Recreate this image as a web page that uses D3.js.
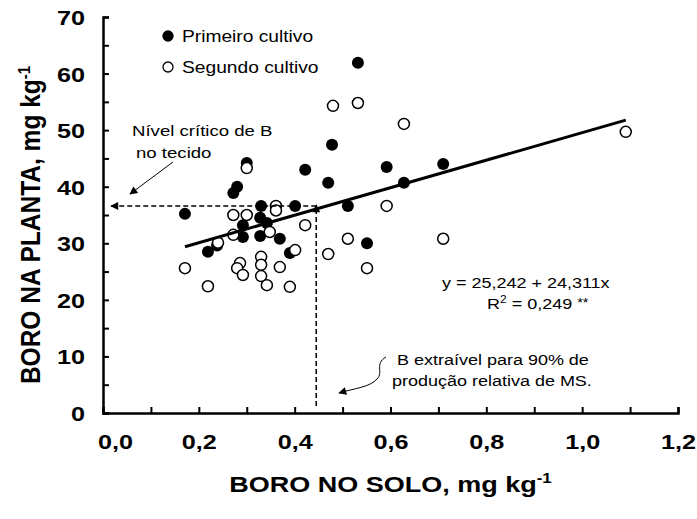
<!DOCTYPE html>
<html>
<head>
<meta charset="utf-8">
<script src="https://cdn.jsdelivr.net/npm/d3@7"></script>
<style>
  body { margin: 0; background: #fff; }
  svg { display: block; font-family: Arial, "Liberation Sans", sans-serif; }
</style>
</head>
<body>
<svg width="697" height="519"></svg>
<script>
// dados: [boro no solo, boro na planta]
const primeiro = [
    [0.171, 35.2], [0.219, 28.5], [0.238, 29.6], [0.272, 38.9], [0.280, 40.0],
    [0.300, 44.2], [0.292, 33.2], [0.292, 31.1], [0.330, 36.6], [0.328, 34.5],
    [0.342, 33.6], [0.328, 31.3], [0.369, 30.8], [0.390, 28.3], [0.401, 36.6],
    [0.422, 43.0], [0.470, 40.7], [0.478, 47.4], [0.532, 61.9], [0.511, 36.6],
    [0.551, 30.0], [0.592, 43.5], [0.628, 40.7], [0.710, 44.0]
];

const segundo = [
    [0.171, 25.6], [0.219, 22.4], [0.240, 30.1], [0.272, 35.0], [0.272, 31.5],
    [0.286, 26.5], [0.280, 25.6], [0.292, 24.4], [0.300, 43.3], [0.300, 35.0],
    [0.330, 27.6], [0.330, 26.2], [0.330, 24.2], [0.342, 22.6], [0.348, 32.0],
    [0.361, 36.6], [0.361, 35.8], [0.369, 25.8], [0.390, 22.3], [0.401, 28.8],
    [0.422, 33.2], [0.470, 28.1], [0.480, 54.3], [0.511, 30.8], [0.532, 54.8],
    [0.551, 25.6], [0.592, 36.6], [0.628, 51.1], [0.710, 30.8], [1.091, 49.7]
];

// reta ajustada y = 25,242 + 24,311x
const intercepto = 25.242;
const inclinacao = 24.311;
const faixaReta = [0.171, 1.091];

// nível crítico
const nivelCritico = { x: 0.445, y: 36.6 };

const ticksX = d3.range(0, 1.21, 0.1);
const ticksY = d3.range(0, 71, 5);

const svg = d3.select("svg");

const x = d3.scaleLinear().domain([0, 1.2]).range([103, 678]);
const y = d3.scaleLinear().domain([0, 70]).range([413, 17]);

const virgula = d => d.toFixed(1).replace(".", ",");

// o texto do original está um pouco esticado na horizontal
const estica = "scale(1.2,1)";

// texto solto posicionado em (px, py)
function texto(g, px, py, tam, str, bold) {
    return g.append("text")
        .attr("transform", `translate(${px},${py}) ${estica}`)
        .style("font-size", tam + "px")
        .style("font-weight", bold ? "bold" : "normal")
        .text(str);
}

// marcadores de seta
const defs = svg.append("defs");
defs.append("marker")
    .attr("id", "seta")
    .attr("viewBox", "0 0 10 10")
    .attr("refX", 9).attr("refY", 5)
    .attr("markerWidth", 12).attr("markerHeight", 8)
    .attr("markerUnits", "userSpaceOnUse")
    .attr("orient", "auto")
    .append("path")
    .attr("d", "M0,0 L10,5 L0,10 Z")
    .attr("fill", "#000");

// eixo Y
const eixoY = svg.append("g")
    .attr("transform", `translate(${x(0)},0)`)
    .call(d3.axisLeft(y)
        .tickValues(ticksY)
        .tickSize(-6)
        .tickPadding(15)
        .tickFormat(d => d % 10 === 0 ? d : ""));

// eixo X
const eixoX = svg.append("g")
    .attr("transform", `translate(0,${y(0)})`)
    .call(d3.axisBottom(x)
        .tickValues(ticksX)
        .tickSize(-6)
        .tickPadding(17)
        .tickFormat((d, i) => i % 2 === 0 ? virgula(d) : ""));

[eixoX, eixoY].forEach(g => {
    g.select(".domain").attr("stroke", "#000").attr("stroke-width", 2.5);
    g.selectAll(".tick line").attr("stroke", "#000").attr("stroke-width", 2);
    g.selectAll(".tick text")
        .attr("fill", "#000")
        .attr("transform", estica)
        .style("font-size", "21px")
        .style("font-weight", "bold")
        .style("font-family", "Arial, 'Liberation Sans', sans-serif");
});
eixoX.selectAll(".tick text").attr("dy", "0.9em");
eixoY.selectAll(".tick text").attr("dy", "0.36em");
eixoX.select(".tick text").attr("dx", 10);

// títulos dos eixos
const tituloX = texto(svg, (x(0) + x(1.2)) / 2, 492, 22.5, "BORO NO SOLO, mg kg", true)
    .attr("text-anchor", "middle");
tituloX.append("tspan").attr("dy", -9).style("font-size", "14px").text("-1");

const tituloY = svg.append("text")
    .attr("transform", "translate(40,225) rotate(-90) scale(1,1.1)")
    .attr("text-anchor", "middle")
    .style("font-size", "24.5px")
    .style("font-weight", "bold")
    .text("BORO NA PLANTA, mg kg");
tituloY.append("tspan").attr("dy", -9).style("font-size", "15px").text("-1");

// pontos
svg.append("g").selectAll("circle")
    .data(primeiro)
    .join("circle")
    .attr("cx", d => x(d[0]))
    .attr("cy", d => y(d[1]))
    .attr("r", 6)
    .attr("fill", "#000");

svg.append("g").selectAll("circle")
    .data(segundo)
    .join("circle")
    .attr("cx", d => x(d[0]))
    .attr("cy", d => y(d[1]))
    .attr("r", 5.5)
    .attr("fill", "#fff")
    .attr("stroke", "#000")
    .attr("stroke-width", 1.5);

// reta de regressão
const line = d3.line()
    .x(d => x(d))
    .y(d => y(intercepto + inclinacao * d));

svg.append("path")
    .attr("d", line(faixaReta))
    .attr("stroke", "#000")
    .attr("stroke-width", 3)
    .attr("fill", "none");

// linhas tracejadas do nível crítico
svg.append("line")
    .attr("x1", x(nivelCritico.x)).attr("y1", y(nivelCritico.y))
    .attr("x2", x(0) + 8).attr("y2", y(nivelCritico.y))
    .attr("stroke", "#000").attr("stroke-width", 1.5)
    .attr("stroke-dasharray", "5,3")
    .attr("marker-end", "url(#seta)");

svg.append("line")
    .attr("x1", x(nivelCritico.x)).attr("y1", y(0) - 7)
    .attr("x2", x(nivelCritico.x)).attr("y2", y(nivelCritico.y) - 1)
    .attr("stroke", "#000").attr("stroke-width", 1.5)
    .attr("stroke-dasharray", "5,3")
    .attr("marker-end", "url(#seta)");

// legenda
const legenda = [
    { nome: "Primeiro cultivo", cheio: true },
    { nome: "Segundo cultivo", cheio: false }
];
const leg = svg.append("g").selectAll("g")
    .data(legenda)
    .join("g")
    .attr("transform", (d, i) => `translate(168,${36 + i * 31})`);
leg.append("circle")
    .attr("r", 5)
    .attr("fill", d => d.cheio ? "#000" : "#fff")
    .attr("stroke", "#000")
    .attr("stroke-width", 1.3);
leg.append("text")
    .attr("transform", `translate(14,6) ${estica}`)
    .style("font-size", "16px")
    .text(d => d.nome);

// anotações
const notas = svg.append("g");
texto(notas, 132, 136, 15.5, "Nível crítico de B");
texto(notas, 136, 158, 15.5, "no tecido");
texto(notas, 397, 365, 15, "B extraível para 90% de");
texto(notas, 392, 386, 15, "produção relativa de MS.");
texto(notas, 442, 288, 15, "y = 25,242 + 24,311x");
const r2 = texto(notas, 487, 309, 15, "R");
r2.append("tspan").attr("dy", -6).style("font-size", "10px").text("2");
r2.append("tspan").attr("dy", 6).text(" = 0,249 ");
r2.append("tspan").attr("dy", -2).style("font-size", "12px").text("**");

svg.append("line")
    .attr("x1", 173).attr("y1", 162)
    .attr("x2", 130).attr("y2", 194)
    .attr("stroke", "#000").attr("stroke-width", 1)
    .attr("marker-end", "url(#seta)");

svg.append("path")
    .attr("d", "M386,357 C374,364 384,372 377,379 C370,387 356,388 339,393")
    .attr("stroke", "#000").attr("stroke-width", 1)
    .attr("fill", "none")
    .attr("marker-end", "url(#seta)");
</script>
</body>
</html>
